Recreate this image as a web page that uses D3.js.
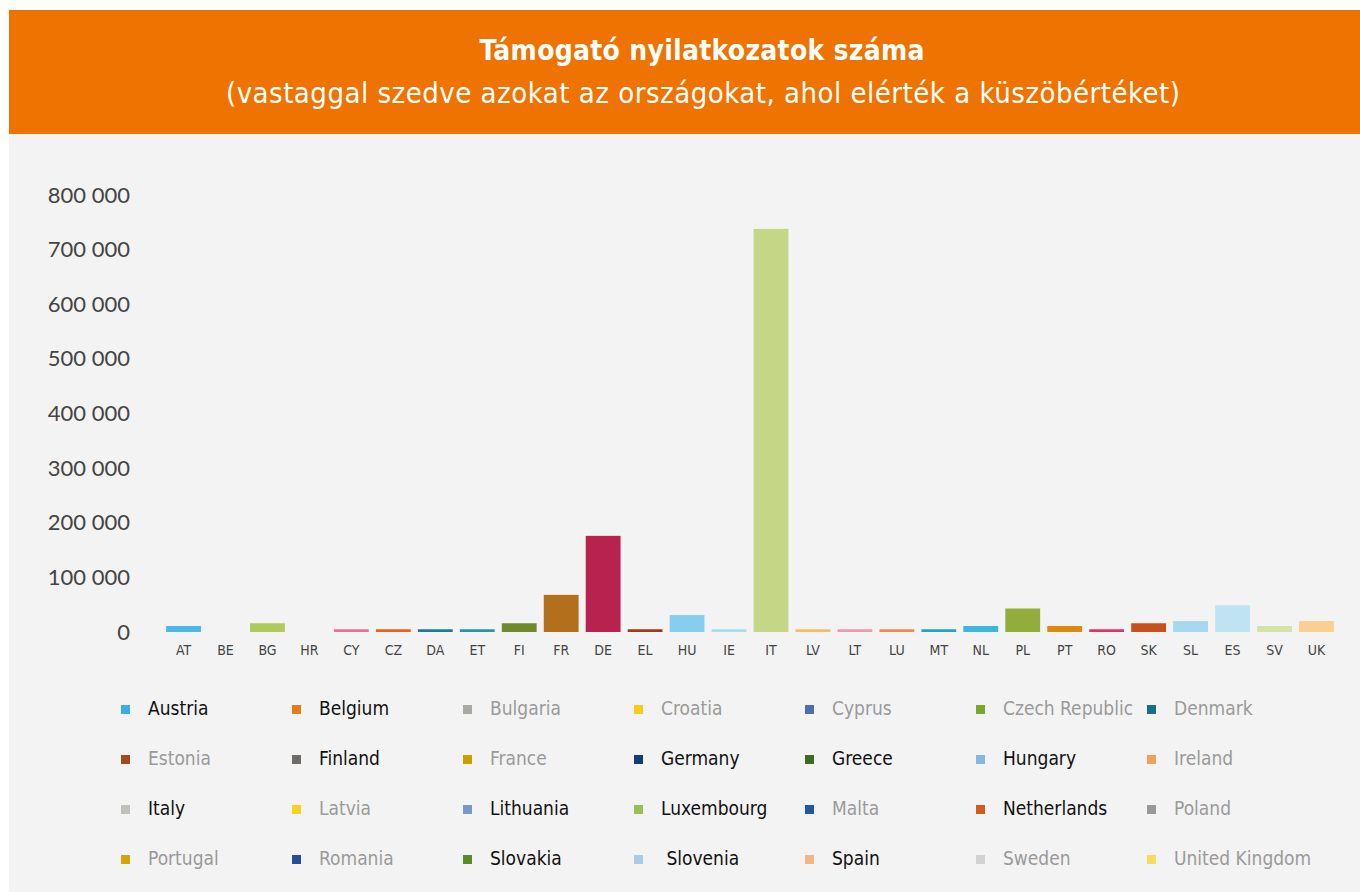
<!DOCTYPE html>
<html>
<head>
<meta charset="utf-8">
<script src="https://cdn.jsdelivr.net/npm/d3@7"></script>
<style>
	body { margin: 0; background: #fff; }
	svg { display: block; }
	.cond { font-family: "DejaVu Sans Condensed", "DejaVu Sans", sans-serif; font-stretch: condensed; }
</style>
</head>
<body>
<div id="chart"></div>
<script>
// country codes on the x axis
var codes = ["AT","BE","BG","HR","CY","CZ","DA","ET","FI","FR","DE","EL","HU","IE","IT",
	"LV","LT","LU","MT","NL","PL","PT","RO","SK","SL","ES","SV","UK"];

// statements of support
var counts = [11000,0,16000,0,5000,5000,5000,5000,16000,68000,176000,5000,31000,5000,738000,
	5000,5000,5000,5000,11000,43000,11000,5000,16000,20000,49000,11000,20000];

var barColors = ["#4db8e8","#e87a22","#afc95a","#f5cc17","#e8709a","#e8621a","#1a7a99","#2a93a8",
	"#6e8a2a","#b36f1c","#b8224e","#9c3a1a","#87cdee","#a8dcef","#c5d687","#f5bb68","#f097b0",
	"#ef8a4e","#25a0c8","#3db5de","#93ad3a","#dd8a10","#d9336a","#c7511a","#a8d8f0","#bfe3f3",
	"#d6e3a8","#f9cf94"];

var yTicks = [0,100000,200000,300000,400000,500000,600000,700000,800000];

// legend entries (leftover from the source chart), bold = reached the threshold
var legendNames = ["Austria","Belgium","Bulgaria","Croatia","Cyprus","Czech Republic","Denmark",
	"Estonia","Finland","France","Germany","Greece","Hungary","Ireland",
	"Italy","Latvia","Lithuania","Luxembourg","Malta","Netherlands","Poland",
	"Portugal","Romania","Slovakia"," Slovenia","Spain","Sweden","United Kingdom"];
var legendColors = ["#3aaee0","#e87a22","#aaa9a5","#f5cc17","#4a6fb3","#78a82a","#146f8c",
	"#a04a20","#6e6b68","#c9a000","#123d7a","#3d6b22","#8ab6df","#f0a05a",
	"#c2c0bb","#fad120","#7898c8","#9bbf55","#1a5aa8","#d45a16","#999999",
	"#d4a30a","#234f9c","#5a8a2a","#a9cbe8","#f3b583","#d2d2d0","#fbd95a"];
var reached = ["Austria","Belgium","Finland","Germany","Greece","Hungary","Italy","Lithuania",
	"Luxembourg","Netherlands","Slovakia"," Slovenia","Spain"];

function init(){
	var w = 1360;
	var h = 892;

	var svg = d3.select("#chart")
				.append("svg")
				.attr("width", w)
				.attr("height", h);

	// header band + grey panel
	svg.append("rect")
		.attr("x", 9).attr("y", 134)
		.attr("width", w - 9).attr("height", h - 134)
		.attr("fill", "#f3f3f3");
	svg.append("rect")
		.attr("x", 9).attr("y", 10)
		.attr("width", w - 9).attr("height", 124)
		.attr("fill", "#ee7300");

	svg.append("text")
		.attr("class", "cond")
		.attr("x", 702).attr("y", 60)
		.attr("text-anchor", "middle")
		.attr("fill", "#fff")
		.style("font-size", "28px")
		.style("font-weight", "bold")
		.attr("textLength", 445)
		.text("Támogató nyilatkozatok száma");
	svg.append("text")
		.attr("class", "cond")
		.attr("x", 703).attr("y", 103)
		.attr("text-anchor", "middle")
		.attr("fill", "#fff")
		.style("font-size", "29px")
		.attr("textLength", 954)
		.text("(vastaggal szedve azokat az országokat, ahol elérték a küszöbértéket)");

	var x = d3.scaleBand()
				.domain(codes)
				.range([159, 1341])
				.padding(0.17);

	var y = d3.scaleLinear()
				.domain([0, 800000])
				.range([632, 195]);

	// y axis: labels only
	var yAxis = d3.axisLeft(y)
				.tickValues(yTicks)
				.tickSize(0)
				.tickPadding(0)
				.tickFormat(function(d){ return d3.format(",")(d).replace(/,/g, " "); });

	var gy = svg.append("g")
				.attr("transform", "translate(130,0)")
				.call(yAxis);
	gy.select(".domain").remove();
	gy.selectAll("text")
		.attr("fill", "#444")
		.style("font-family", "Lato, sans-serif")
		.style("font-size", "22px");

	// bars
	svg.selectAll("rect.bar")
		.data(codes)
		.enter()
		.append("rect")
		.attr("class", "bar")
		.attr("x", function(d){ return x(d); })
		.attr("width", x.bandwidth())
		.attr("y", function(d, i){ return y(counts[i]); })
		.attr("height", function(d, i){ return y(0) - y(counts[i]); })
		.attr("fill", function(d, i){ return barColors[i]; });

	// x axis: labels only
	var xAxis = d3.axisBottom(x).tickSize(0).tickPadding(0);
	var gx = svg.append("g")
				.attr("transform", "translate(0,645)")
				.call(xAxis);
	gx.select(".domain").remove();
	gx.selectAll("text")
		.attr("class", "cond")
		.attr("fill", "#444")
		.style("font-family", "'DejaVu Sans Condensed', 'DejaVu Sans', sans-serif")
		.style("font-size", "14px");

	// legend 7 x 4
	var item = svg.selectAll("g.leg")
				.data(legendNames)
				.enter()
				.append("g")
				.attr("class", "leg")
				.attr("transform", function(d, i){
					return "translate(" + (121 + (i % 7) * 171) + "," + (708 + Math.floor(i / 7) * 50) + ")";
				});
	item.append("rect")
		.attr("x", 0).attr("y", -3)
		.attr("width", 9).attr("height", 9)
		.attr("fill", function(d, i){ return legendColors[i]; });
	item.append("text")
		.attr("class", "cond")
		.attr("x", 27).attr("y", 7)
		.attr("fill", function(d){ return reached.indexOf(d) >= 0 ? "#111" : "#9a9a9a"; })
		.style("font-size", "19px")
		.style("white-space", "pre")
		.text(function(d){ return d; });
}

window.onload = init;
</script>
</body>
</html>
